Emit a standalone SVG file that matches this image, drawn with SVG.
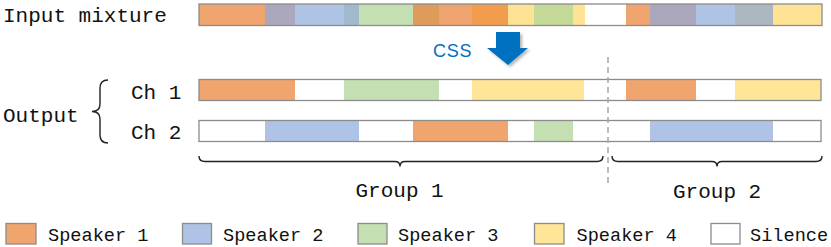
<svg xmlns="http://www.w3.org/2000/svg" width="831" height="247" viewBox="0 0 831 247">
<defs>
<style>
.t{font-family:"Liberation Mono","DejaVu Sans Mono",monospace;font-size:21px;fill:#111}
.lg{font-family:"Liberation Mono","DejaVu Sans Mono",monospace;font-size:18.6px;fill:#111}
.bar{fill:none;stroke:#8c8c8c;stroke-width:1.3}
.box{stroke:#8c8c8c;stroke-width:1.3}
.br{fill:none;stroke:#222;stroke-width:1.4}
.s1{fill:#F0A46E}.s2{fill:#AFC3E6}.s3{fill:#C4DFB2}.s4{fill:#FFE597}.sil{fill:#FFFFFF}
</style>
<filter id="sh" x="-30%" y="-30%" width="160%" height="160%">
<feDropShadow dx="2" dy="2" stdDeviation="1.5" flood-color="#000" flood-opacity="0.3"/>
</filter>
</defs>
<rect width="831" height="247" fill="#fff"/>

<g id="input-mixture">
<text class="t" x="3" y="22">Input mixture</text>
<rect x="199" y="4" width="66" height="21.5" fill="#F0A46E"/>
<rect x="265" y="4" width="30" height="21.5" fill="#ABA7BD"/>
<rect x="295" y="4" width="49" height="21.5" fill="#AFC3E5"/>
<rect x="344" y="4" width="15" height="21.5" fill="#A0B9CC"/>
<rect x="359" y="4" width="54" height="21.5" fill="#C4DFB1"/>
<rect x="413" y="4" width="26" height="21.5" fill="#DE9C5A"/>
<rect x="439" y="4" width="33" height="21.5" fill="#EFA36F"/>
<rect x="472" y="4" width="36" height="21.5" fill="#F29D4E"/>
<rect x="508" y="4" width="26" height="21.5" fill="#FFE395"/>
<rect x="534" y="4" width="39" height="21.5" fill="#C5D998"/>
<rect x="573" y="4" width="12" height="21.5" fill="#FFE395"/>
<rect x="585" y="4" width="41" height="21.5" fill="#FFFFFF"/>
<rect x="626" y="4" width="24" height="21.5" fill="#F0A46E"/>
<rect x="650" y="4" width="46" height="21.5" fill="#ABA7BD"/>
<rect x="696" y="4" width="39" height="21.5" fill="#AFC3E5"/>
<rect x="735" y="4" width="38" height="21.5" fill="#ADB7C2"/>
<rect x="773" y="4" width="49" height="21.5" fill="#FFE395"/>
<rect class="bar" x="199" y="4" width="623" height="21.5"/>
</g>

<g id="css-arrow">
<text x="433" y="57" font-family="'Liberation Sans','Open Sans',sans-serif" font-size="18" letter-spacing="0.8" fill="#0070C0">CSS</text>
<polygon points="496,32 520,32 520,48 528,48 508,65 487,48 496,48" fill="#0070C0" filter="url(#sh)"/>
</g>

<g id="output-label">
<text class="t" x="3" y="121.5">Output</text>
</g>

<g id="ch1">
<text class="t" x="131" y="99">Ch 1</text>
<rect class="s1" x="199" y="79.5" width="96" height="21"/>
<rect class="sil" x="295" y="79.5" width="49" height="21"/>
<rect class="s3" x="344" y="79.5" width="95" height="21"/>
<rect class="sil" x="439" y="79.5" width="33" height="21"/>
<rect class="s4" x="472" y="79.5" width="112" height="21"/>
<rect class="sil" x="584" y="79.5" width="42" height="21"/>
<rect class="s1" x="626" y="79.5" width="70" height="21"/>
<rect class="sil" x="696" y="79.5" width="39" height="21"/>
<rect class="s4" x="735" y="79.5" width="86" height="21"/>
<rect class="bar" x="199" y="79.5" width="622" height="21"/>
</g>

<g id="ch2">
<text class="t" x="131" y="139">Ch 2</text>
<rect class="sil" x="199" y="120.5" width="66" height="21"/>
<rect class="s2" x="265" y="120.5" width="94" height="21"/>
<rect class="sil" x="359" y="120.5" width="54" height="21"/>
<rect class="s1" x="413" y="120.5" width="95" height="21"/>
<rect class="sil" x="508" y="120.5" width="26" height="21"/>
<rect class="s3" x="534" y="120.5" width="39" height="21"/>
<rect class="sil" x="573" y="120.5" width="77" height="21"/>
<rect class="s2" x="650" y="120.5" width="123" height="21"/>
<rect class="sil" x="773" y="120.5" width="48" height="21"/>
<rect class="bar" x="199" y="120.5" width="622" height="21"/>
</g>

<g id="connectors">
<line x1="608" y1="57" x2="608" y2="185" stroke="#a6a6a6" stroke-width="1.5" stroke-dasharray="6,4"/>
<path class="br" d="M108,80 Q100,80 100,88 L100,104 Q100,111.5 92,111.5 Q100,111.5 100,119 L100,135 Q100,143 108,143"/>
<path class="br" d="M199,156 Q199,161.5 205,161.5 L395,161.5 Q400,161.5 400,166.5 Q400,161.5 405,161.5 L597,161.5 Q603,161.5 603,156"/>
<path class="br" d="M612,156 Q612,161.5 618,161.5 L712,161.5 Q717,161.5 717,166.5 Q717,161.5 722,161.5 L816,161.5 Q822,161.5 822,156"/>
</g>

<g id="group1"><text class="t" x="355.5" y="197">Group 1</text></g>
<g id="group2"><text class="t" x="673" y="197.5">Group 2</text></g>

<g id="legend">
<g id="leg-s1"><rect class="box s1" x="6" y="223.5" width="30" height="20.5"/><text class="lg" x="48" y="240.5">Speaker 1</text></g>
<g id="leg-s2"><rect class="box s2" x="182.5" y="223.5" width="29" height="20.5"/><text class="lg" x="223" y="240.5">Speaker 2</text></g>
<g id="leg-s3"><rect class="box s3" x="358" y="223.5" width="29" height="20.5"/><text class="lg" x="398" y="240.5">Speaker 3</text></g>
<g id="leg-s4"><rect class="box s4" x="534.5" y="223.5" width="29.5" height="20.5"/><text class="lg" x="576.5" y="240.5">Speaker 4</text></g>
<g id="leg-sil"><rect class="box sil" x="711" y="223.5" width="29" height="20.5"/><text class="lg" x="750" y="240.5">Silence</text></g>
</g>
</svg>
